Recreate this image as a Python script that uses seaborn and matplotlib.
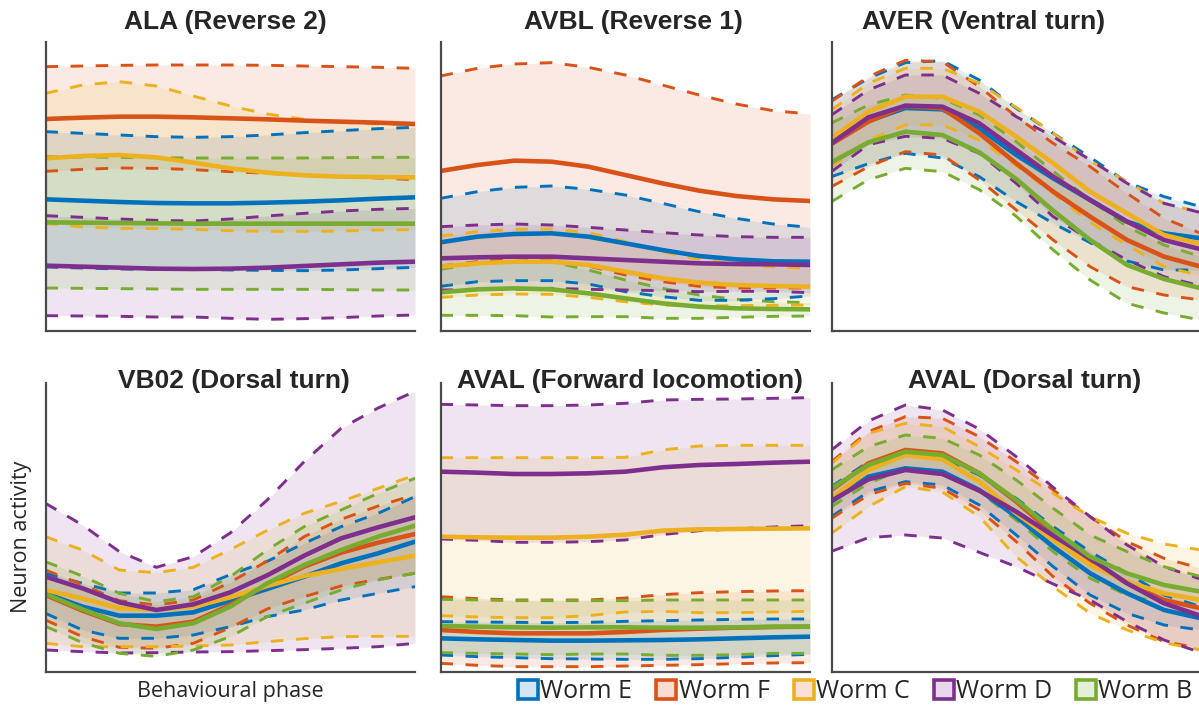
import matplotlib
matplotlib.use("Agg")
import matplotlib.pyplot as plt
from matplotlib.patches import Patch
import pandas as pd
import seaborn as sns

# Behavioural phase grid (normalised 0..1)
PHASE = [0.0, 0.1, 0.2, 0.3, 0.4, 0.5, 0.6, 0.7, 0.8, 0.9, 1.0]

WORMS = ["Worm E", "Worm F", "Worm C", "Worm D", "Worm B"]
COLORS = ["#0072BD", "#D95319", "#EDB120", "#7E2F8E", "#77AC30"]
LEGEND_FILL = ["#d3e5f3", "#f9ddd2", "#f9e0d6", "#e6d8ea", "#e4efd9"]

TITLES = [
    "ALA (Reverse 2)", "AVBL (Reverse 1)", "AVER (Ventral turn)",
    "VB02 (Dorsal turn)", "AVAL (Forward locomotion)", "AVAL (Dorsal turn)",
]

# Mean activity and spread (arbitrary units) for each worm, panel by panel
ALA_MEAN = {
    "Worm E": [395, 391, 387, 384, 383, 383, 385, 388, 392, 397, 401],
    "Worm F": [636, 640, 643, 643, 641, 638, 635, 631, 628, 625, 621],
    "Worm C": [518, 525, 528, 521, 505, 488, 475, 467, 463, 462, 461],
    "Worm D": [196, 193, 190, 187, 186, 187, 190, 195, 200, 205, 208],
    "Worm B": [326, 325, 324, 323, 322, 322, 322, 322, 322, 322, 322],
}
ALA_SD = {
    "Worm E": [203, 202, 201, 199, 198, 200, 203, 207, 209, 210, 210],
    "Worm F": [157, 155, 154, 155, 157, 160, 162, 164, 165, 166, 167],
    "Worm C": [195, 213, 220, 214, 200, 187, 176, 168, 163, 159, 157],
    "Worm D": [150, 148, 146, 145, 144, 149, 155, 158, 160, 160, 160],
    "Worm B": [197, 197, 197, 197, 197, 197, 197, 197, 198, 199, 199],
}

AVBL_MEAN = {
    "Worm E": [266, 283, 291, 293, 283, 263, 243, 225, 215, 209, 208],
    "Worm F": [480, 498, 511, 508, 493, 468, 443, 421, 405, 395, 390],
    "Worm C": [193, 203, 208, 208, 198, 178, 158, 145, 138, 135, 133],
    "Worm D": [218, 221, 223, 223, 218, 213, 208, 203, 201, 200, 198],
    "Worm B": [116, 125, 128, 125, 113, 98, 83, 73, 68, 66, 65],
}
AVBL_SD = {
    "Worm E": [132, 135, 140, 142, 142, 145, 140, 133, 123, 112, 103],
    "Worm F": [285, 290, 290, 297, 298, 300, 295, 287, 276, 266, 261],
    "Worm C": [92, 95, 97, 98, 97, 90, 80, 70, 62, 58, 55],
    "Worm D": [95, 97, 98, 95, 93, 90, 87, 85, 82, 81, 83],
    "Worm B": [69, 78, 82, 83, 70, 55, 45, 35, 27, 22, 20],
}

AVER_MEAN = {
    "Worm E": [578, 630, 669, 665, 608, 528, 458, 393, 328, 293, 278],
    "Worm F": [561, 628, 675, 668, 593, 503, 418, 343, 273, 223, 193],
    "Worm C": [578, 658, 703, 703, 658, 583, 503, 418, 353, 288, 261],
    "Worm D": [563, 641, 676, 673, 623, 543, 463, 393, 328, 273, 245],
    "Worm B": [506, 566, 598, 588, 536, 456, 361, 273, 198, 156, 128],
}
AVER_SD = {
    "Worm E": [115, 128, 136, 146, 145, 140, 135, 128, 118, 110, 95],
    "Worm F": [128, 135, 137, 140, 140, 140, 145, 150, 140, 115, 100],
    "Worm C": [85, 85, 85, 85, 85, 88, 90, 92, 95, 95, 95],
    "Worm D": [85, 82, 92, 95, 90, 100, 120, 120, 115, 110, 110],
    "Worm B": [118, 112, 110, 110, 112, 112, 118, 120, 115, 102, 95],
}

VB02_MEAN = {
    "Worm E": [236, 196, 169, 169, 179, 214, 249, 286, 326, 356, 391],
    "Worm F": [231, 184, 144, 136, 151, 201, 261, 316, 358, 388, 414],
    "Worm C": [246, 221, 191, 187, 196, 224, 258, 288, 309, 329, 349],
    "Worm D": [286, 251, 209, 186, 203, 239, 290, 349, 401, 434, 464],
    "Worm B": [234, 188, 146, 129, 146, 196, 266, 321, 366, 406, 439],
}
VB02_SD = {
    "Worm E": [60, 70, 68, 68, 68, 78, 83, 100, 110, 120, 135],
    "Worm F": [75, 78, 70, 65, 65, 68, 72, 90, 100, 110, 118],
    "Worm C": [160, 145, 115, 111, 118, 143, 167, 188, 203, 222, 242],
    "Worm D": [220, 190, 152, 128, 143, 178, 226, 282, 330, 358, 378],
    "Worm B": [97, 100, 90, 82, 80, 90, 100, 115, 120, 130, 142],
}

AVAL_FWD_MEAN = {
    "Worm E": [101, 98, 96, 94, 94, 95, 96, 98, 101, 104, 106],
    "Worm F": [126, 120, 116, 116, 116, 120, 126, 130, 133, 135, 136],
    "Worm C": [406, 404, 403, 403, 406, 412, 424, 428, 429, 430, 431],
    "Worm D": [601, 598, 594, 594, 596, 601, 614, 621, 624, 628, 631],
    "Worm B": [138, 136, 134, 133, 134, 134, 133, 133, 134, 136, 136],
}
AVAL_FWD_SD = {
    "Worm E": [50, 52, 53, 54, 55, 57, 58, 58, 57, 55, 53],
    "Worm F": [100, 100, 100, 100, 100, 102, 106, 108, 108, 108, 108],
    "Worm C": [237, 239, 240, 240, 237, 232, 242, 250, 251, 250, 249],
    "Worm D": [202, 203, 205, 205, 205, 205, 202, 197, 195, 193, 192],
    "Worm B": [80, 80, 80, 81, 80, 80, 83, 83, 82, 80, 80],
}

AVAL_DT_MEAN = {
    "Worm E": [511, 586, 611, 601, 546, 466, 376, 296, 236, 186, 161],
    "Worm F": [546, 626, 666, 656, 596, 511, 416, 336, 266, 216, 191],
    "Worm C": [521, 606, 651, 638, 571, 476, 396, 321, 271, 236, 216],
    "Worm D": [514, 578, 606, 594, 544, 481, 409, 341, 266, 206, 168],
    "Worm B": [551, 621, 661, 651, 596, 516, 426, 346, 296, 261, 241],
}
AVAL_DT_SD = {
    "Worm E": [45, 45, 40, 40, 45, 55, 60, 65, 60, 45, 35],
    "Worm F": [85, 95, 100, 105, 110, 120, 130, 130, 125, 125, 120],
    "Worm C": [105, 110, 95, 98, 105, 130, 140, 145, 145, 148, 150],
    "Worm D": [152, 175, 195, 192, 185, 165, 145, 125, 115, 110, 110],
    "Worm B": [55, 55, 50, 50, 55, 60, 65, 65, 65, 55, 45],
}

PANELS = [
    (ALA_MEAN, ALA_SD), (AVBL_MEAN, AVBL_SD), (AVER_MEAN, AVER_SD),
    (VB02_MEAN, VB02_SD), (AVAL_FWD_MEAN, AVAL_FWD_SD), (AVAL_DT_MEAN, AVAL_DT_SD),
]


def to_frame(mean, sd):
    rows = []
    for worm in WORMS:
        for p, m, s in zip(PHASE, mean[worm], sd[worm]):
            rows.append({"worm": worm, "phase": p, "mean": m,
                         "lower": m - s, "upper": m + s})
    return pd.DataFrame(rows)


sns.set_style("white")
plt.rcParams["font.family"] = ["Open Sans", "DejaVu Sans"]

W, H = 1199, 712
fig = plt.figure(figsize=(W / 100, H / 100), dpi=100)

LEFTS = [45.5, 440.5, 831.5]
BOTTOMS = [331, 672]
AX_W, AX_H = 369.5, 289
TITLE_X = [[225, 633, 984], [234, 630, 1025]]
TITLE_Y = [22, 381]

palette = dict(zip(WORMS, COLORS))

for i, ((mean, sd), title) in enumerate(zip(PANELS, TITLES)):
    r, c = divmod(i, 3)
    ax = fig.add_axes([LEFTS[c] / W, 1 - BOTTOMS[r] / H, AX_W / W, AX_H / H])
    ax.patch.set_alpha(0)
    df = to_frame(mean, sd)

    for worm in WORMS:
        d = df[df["worm"] == worm]
        ax.fill_between(d["phase"], d["lower"], d["upper"],
                        color=palette[worm], alpha=0.12, linewidth=0)

    for bound in ("upper", "lower"):
        sns.lineplot(data=df, x="phase", y=bound, hue="worm", hue_order=WORMS,
                     palette=palette, ax=ax, legend=False, errorbar=None,
                     linewidth=2.1, linestyle=(0, (4.3, 4.3)))
    sns.lineplot(data=df, x="phase", y="mean", hue="worm", hue_order=WORMS,
                 palette=palette, ax=ax, legend=False, errorbar=None,
                 linewidth=3.3)

    ax.set_xlim(0, 1)
    ax.set_ylim(0, 867)
    ax.set(xlabel="", ylabel="", xticks=[], yticks=[])
    for s in ("top", "right"):
        ax.spines[s].set_visible(False)
    for s in ("left", "bottom"):
        ax.spines[s].set_color("#4a4a4a")
        ax.spines[s].set_linewidth(1.6)

    fig.text(TITLE_X[r][c] / W, 1 - TITLE_Y[r] / H, title, ha="center",
             va="center", fontsize=19, fontweight="bold",
             family=["Liberation Sans", "DejaVu Sans"])

fig.text(22 / W, 1 - 537 / H, "Neuron activity", rotation=90,
         ha="center", va="center", fontsize=15.5)
fig.text(230 / W, 1 - 692 / H, "Behavioural phase",
         ha="center", va="center", fontsize=15.5)

handles = [Patch(facecolor=f, edgecolor=col, linewidth=2.6, label=w)
           for w, col, f in zip(WORMS, COLORS, LEGEND_FILL)]
fig.legend(handles=handles, loc="center left",
           bbox_to_anchor=(518 / W, 1 - 692 / H), ncol=5, frameon=False,
           fontsize=18, handlelength=0.8, handleheight=0.8,
           handletextpad=0.1, columnspacing=0.95, borderpad=0,
           borderaxespad=0)

fig.savefig("out.png", dpi=100)
